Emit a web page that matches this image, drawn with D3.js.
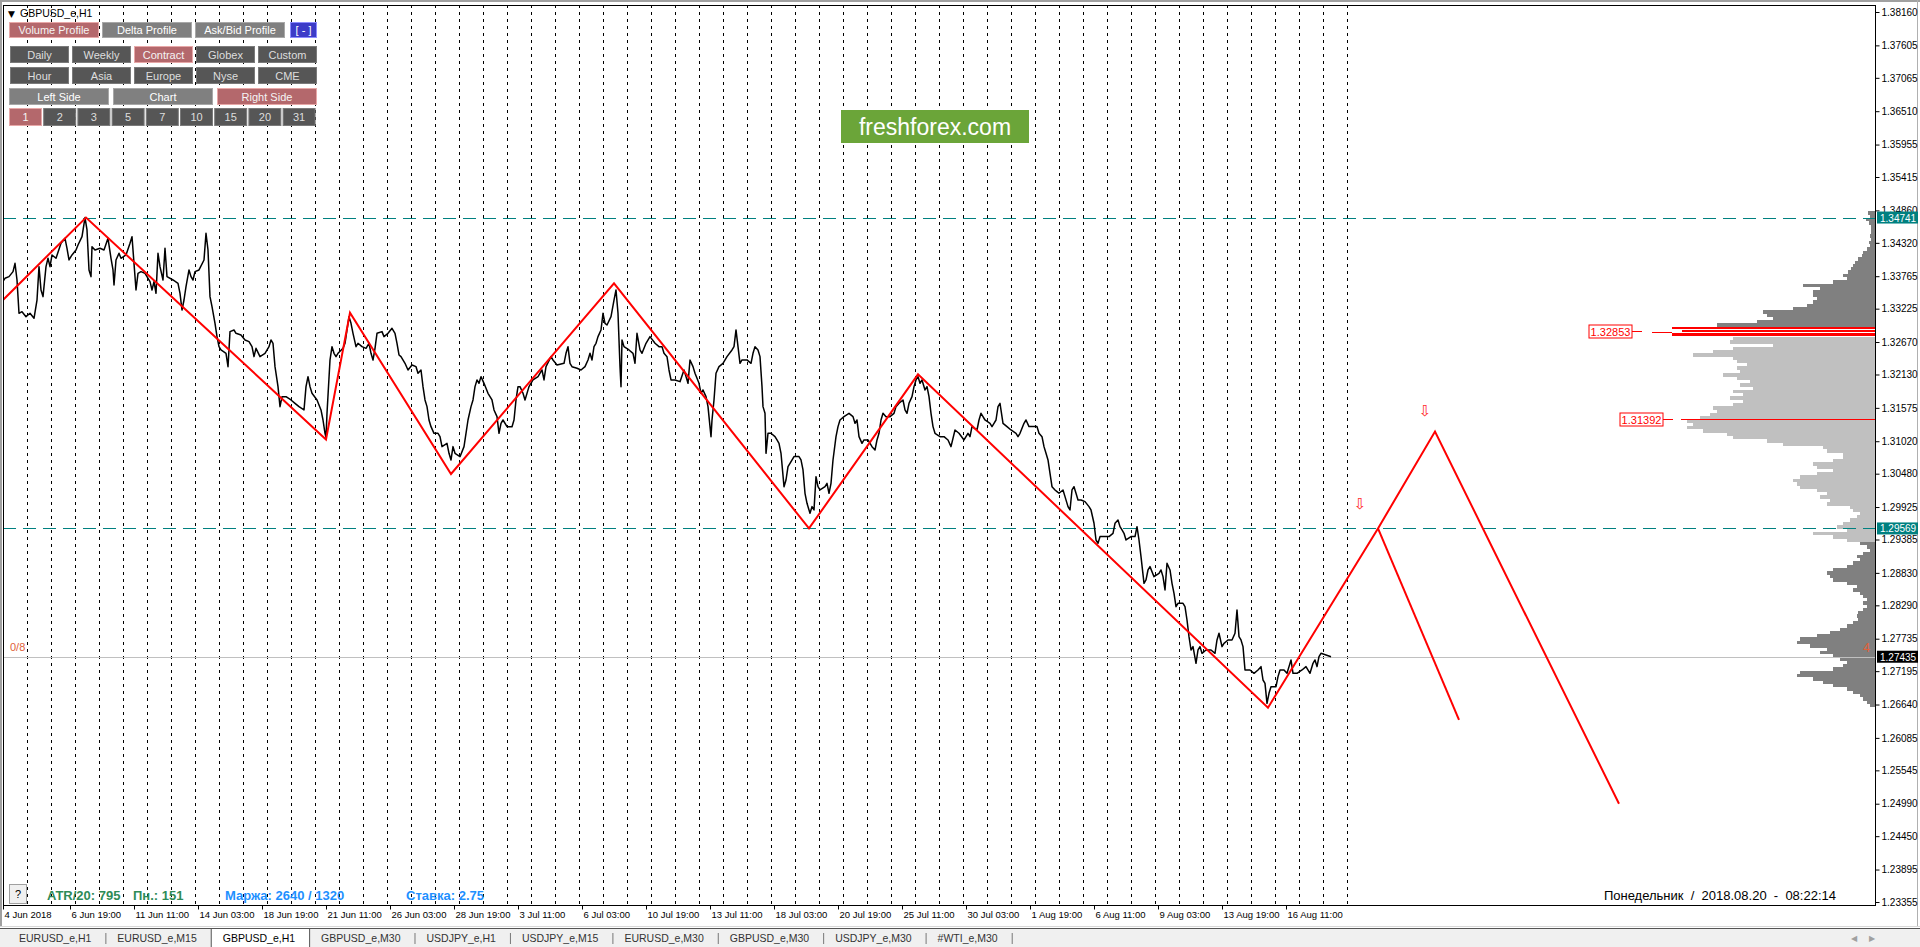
<!DOCTYPE html>
<html><head><meta charset="utf-8">
<script src="https://cdn.jsdelivr.net/npm/d3@7"></script>
<style>
body{margin:0;background:#fff;overflow:hidden}
svg{display:block}
text{font-family:"Liberation Sans",Arial,sans-serif}
</style>
</head><body>
<svg id="c" width="1920" height="947"></svg>
<script>
// ---------------- DATA ----------------
const symbolTitle = "GBPUSD_e,H1";
const priceTicks = [1.38160,1.37605,1.37065,1.36510,1.35955,1.35415,1.34860,1.34320,1.33765,1.33225,1.32670,1.32130,1.31575,1.31020,1.30480,1.29925,1.29385,1.28830,1.28290,1.27735,1.27195,1.26640,1.26085,1.25545,1.24990,1.24450,1.23895,1.23355];
const timeBars = [0,67,131,195,259,323,387,451,515,579,643,707,771,835,899,963,1027,1091,1155,1219,1283];
const timeLabels = ["4 Jun 2018","6 Jun 19:00","11 Jun 11:00","14 Jun 03:00","18 Jun 19:00","21 Jun 11:00","26 Jun 03:00","28 Jun 19:00","3 Jul 11:00","6 Jul 03:00","10 Jul 19:00","13 Jul 11:00","18 Jul 03:00","20 Jul 19:00","25 Jul 11:00","30 Jul 03:00","1 Aug 19:00","6 Aug 11:00","9 Aug 03:00","13 Aug 19:00","16 Aug 11:00"];
const barsPerDay = 24, lastSeparatorBar = 1344;

// H1 close path [bar index from 4 Jun 00:00, price]
const priceSeries = [[0,1.3368],[2,1.3373],[6,1.33758],[10,1.33841],[12,1.33979],[14,1.33702],[16,1.33148],[19,1.33175],[23,1.33092],[27,1.33148],[31,1.33065],[34,1.33369],[36,1.33924],[38,1.33536],[40,1.33425],[43,1.33924],[45,1.34063],[47,1.33924],[49,1.34118],[53,1.34063],[58,1.34312],[62,1.34395],[64,1.34229],[66,1.34035],[69,1.34118],[73,1.34201],[75,1.34284],[79,1.34423],[82,1.34741],[84,1.34534],[86,1.33869],[88,1.33758],[89,1.34257],[92,1.34201],[97,1.34229],[101,1.34201],[105,1.34395],[108,1.34063],[110,1.33869],[111,1.33619],[113,1.34035],[116,1.34146],[118,1.34063],[123,1.34118],[127,1.34312],[129,1.34423],[131,1.33979],[133,1.33536],[135,1.33813],[138,1.33841],[142,1.33813],[147,1.33674],[149,1.33536],[151,1.33674],[153,1.3348],[155,1.34146],[157,1.33924],[160,1.33702],[162,1.34229],[164,1.33758],[170,1.33702],[175,1.33647],[177,1.3348],[179,1.33203],[181,1.33369],[183,1.33591],[186,1.33869],[188,1.33758],[190,1.33702],[192,1.33841],[196,1.33869],[201,1.34035],[203,1.34478],[205,1.34201],[207,1.33425],[209,1.33259],[212,1.32981],[214,1.3276],[216,1.32593],[218,1.32538],[223,1.32482],[225,1.3226],[227,1.32843],[231,1.3287],[233,1.32815],[238,1.32787],[242,1.32704],[246,1.32676],[249,1.32593],[251,1.32427],[253,1.32565],[257,1.32427],[262,1.32482],[266,1.32593],[268,1.32704],[270,1.32649],[272,1.3226],[275,1.31928],[277,1.31595],[279,1.31761],[283,1.31761],[288,1.31706],[292,1.3165],[296,1.31595],[301,1.3154],[303,1.31928],[305,1.32094],[307,1.31928],[309,1.31817],[314,1.31706],[318,1.3154],[320,1.31373],[322,1.31151],[323,1.31085],[324,1.31484],[327,1.32371],[329,1.32593],[331,1.32482],[333,1.32427],[335,1.32482],[340,1.32565],[342,1.32649],[344,1.3287],[346,1.33092],[348,1.32981],[350,1.32815],[353,1.32593],[355,1.32649],[359,1.32593],[363,1.32565],[366,1.32649],[368,1.32482],[370,1.32371],[372,1.32565],[374,1.32815],[379,1.32843],[381,1.3276],[385,1.32815],[389,1.32898],[392,1.32815],[394,1.32649],[396,1.32455],[398,1.32427],[402,1.32316],[405,1.32205],[409,1.32288],[413,1.3226],[415,1.3215],[418,1.32205],[420,1.31928],[422,1.31706],[424,1.31595],[426,1.31373],[428,1.31262],[431,1.31151],[435,1.31151],[437,1.31096],[439,1.3093],[444,1.30985],[446,1.30819],[448,1.30708],[450,1.3093],[452,1.30819],[457,1.30763],[461,1.3093],[463,1.31151],[465,1.31373],[468,1.31595],[470,1.31706],[472,1.31928],[474,1.32039],[476,1.31983],[478,1.32094],[481,1.31983],[483,1.319],[485,1.31817],[489,1.31706],[491,1.3154],[494,1.31429],[496,1.31151],[498,1.31318],[500,1.31373],[504,1.31262],[509,1.31262],[511,1.31373],[513,1.31706],[515,1.31928],[517,1.31928],[520,1.31817],[522,1.31706],[526,1.31928],[530,1.32039],[535,1.32094],[539,1.32205],[541,1.32039],[543,1.3226],[548,1.32427],[550,1.32371],[554,1.32288],[561,1.32316],[563,1.32482],[565,1.32593],[567,1.32316],[569,1.3226],[574,1.32233],[578,1.32205],[582,1.3226],[585,1.32371],[587,1.32482],[589,1.32371],[591,1.32593],[593,1.32649],[595,1.3276],[598,1.3287],[600,1.33148],[602,1.32981],[604,1.32954],[608,1.33092],[611,1.33369],[613,1.33536],[615,1.33148],[617,1.3226],[618,1.31928],[619,1.32704],[621,1.32593],[626,1.32538],[630,1.32482],[632,1.32316],[634,1.32815],[637,1.32538],[639,1.32482],[643,1.32649],[647,1.3276],[652,1.32649],[656,1.32593],
[659,1.32593],[661,1.32482],[664,1.32427],[666,1.32205],[668,1.32039],[672,1.32039],[677,1.32011],[681,1.32205],[683,1.32094],[685,1.31983],[687,1.32372],[690,1.32261],[692,1.3215],[696,1.31983],[698,1.31817],[700,1.31873],[703,1.31762],[705,1.31595],[707,1.31263],[708,1.31096],[709,1.31373],[711,1.31706],[713,1.3215],[716,1.32261],[720,1.32316],[724,1.32427],[729,1.32538],[731,1.32593],[733,1.32871],[735,1.32593],[737,1.32316],[739,1.32372],[744,1.32372],[748,1.32316],[750,1.32482],[752,1.32593],[755,1.32538],[757,1.32427],[759,1.31928],[760,1.31595],[762,1.31484],[763,1.30819],[765,1.31152],[768,1.31152],[772,1.31096],[774,1.31041],[776,1.30985],[778,1.30819],[781,1.30264],[783,1.30375],[785,1.30597],[787,1.30653],[791,1.30764],[796,1.30764],[798,1.30708],[800,1.30542],[802,1.30154],[804,1.29987],[807,1.29821],[809,1.29932],[811,1.29876],[813,1.30431],[815,1.30264],[817,1.30209],[822,1.30264],[824,1.3032],[826,1.30154],[828,1.3032],[830,1.30708],[833,1.31096],[835,1.31263],[837,1.31373],[841,1.31429],[846,1.31484],[850,1.31429],[852,1.31318],[854,1.31373],[856,1.31096],[859,1.30985],[861,1.31041],[865,1.31041],[869,1.3093],[872,1.30874],[874,1.31041],[876,1.31152],[878,1.31373],[880,1.31484],[883,1.31429],[887,1.31429],[891,1.31484],[893,1.31595],[896,1.31651],[900,1.31706],[902,1.3154],[904,1.31484],[906,1.31651],[909,1.31762],[911,1.31928],[913,1.32039],[915,1.32094],[917,1.31983],[919,1.32039],[922,1.31873],[924,1.31928],[926,1.31762],[928,1.31484],[930,1.31263],[932,1.31152],[937,1.31096],[941,1.31096],[945,1.31041],[948,1.3093],[952,1.31207],[956,1.31152],[961,1.31041],[965,1.31152],[967,1.31096],[969,1.31263],[974,1.31207],[976,1.31373],[978,1.31484],[980,1.31429],[982,1.31373],[987,1.31318],[989,1.31263],[991,1.31318],[993,1.31373],[995,1.31595],[997,1.31651],[1000,1.31318],[1004,1.31263],[1008,1.31207],[1013,1.31152],[1015,1.31096],[1017,1.31152],[1021,1.31318],[1023,1.31373],[1026,1.31263],[1030,1.31263],[1034,1.31263],[1036,1.31152],[1039,1.31096],[1041,1.3093],[1043,1.30819],[1045,1.30708],[1047,1.30486],[1049,1.30264],[1052,1.30209],[1054,1.30181],[1056,1.30154],[1060,1.30209],[1062,1.30098],[1065,1.29932],[1067,1.29876],[1069,1.30209],[1071,1.30264],[1073,1.30154],[1075,1.30043],[1078,1.30043],[1082,1.30015],[1086,1.29932],[1088,1.29876],[1091,1.29655],[1093,1.29377],[1095,1.29322],[1097,1.29433],[1101,1.29433],[1106,1.29433],[1110,1.29488],[1112,1.29655],[1115,1.2971],[1117,1.29599],[1119,1.29544],[1121,1.29488],[1123,1.29377],[1128,1.29433],[1132,1.29433],[1134,1.29599],[1136,1.29377],[1138,1.291],[1141,1.28656],[1143,1.28712],[1145,1.28878],[1147,1.28934],[1151,1.28767],[1156,1.28823],[1158,1.28878],[1160,1.28767],[1162,1.28546],[1164,1.28989],[1167,1.28878],[1169,1.28656],[1171,1.2849],[1173,1.28268],[1175,1.28324],[1180,1.28324],[1182,1.28268],[1184,1.28046],[1186,1.27769],[1188,1.27547],[1190,1.27603],[1193,1.27326],[1195,1.27547],[1197,1.27603],[1199,1.27492],[1203,1.27547],[1208,1.27547],[1212,1.27492],[1214,1.27714],[1216,1.27825],[1219,1.27603],[1221,1.27658],[1225,1.27714],[1229,1.27714],[1232,1.27825],[1234,1.28213],[1236,1.27769],[1238,1.27714],[1240,1.27603],[1242,1.27215],[1247,1.27215],[1251,1.27159],[1255,1.27215],[1258,1.2727],[1260,1.27048],[1262,1.26993],[1264,1.2666],[1266,1.26827],[1268,1.26937],[1273,1.26937],[1275,1.27104],[1277,1.27215],[1281,1.27215],[1284,1.27159],[1286,1.2727],[1288,1.27381],[1290,1.27159],[1294,1.27159],[1299,1.27215],[1303,1.2727],[1307,1.27159],[1310,1.27326],[1312,1.27381],[1314,1.2727],[1316,1.27437],[1318,1.27492],[1323,1.27464],[1328,1.27435]];

// ZigZag swings + projection
const zigzagBars   = [0,83,323,347,448,611,806,915,1265,1375,1432,1616];
const zigzagPrices = [1.3337,1.34741,1.3105,1.33159,1.30475,1.33647,1.29569,1.32133,1.26588,1.29569,1.3118,1.2499];
const branchBars   = [1375,1456];
const branchPrices = [1.29569,1.26383];
const arrowBars    = [1357,1422];
const arrowPrices  = [1.2999,1.3154];

// reference levels
const dashedLevels = [1.34741,1.29569];
const currentPrice = 1.27435;
const murreyLabel = "0/8", murreyPrice = 1.2760, murreyRight = "4";

// Volume profile (bins from top, step in price)
const profileTop = 1.34850, profileStep = 0.00055;
const profileVolume = [7,5,9,6,4,4,4,5,4,6,5,8,12,13,17,20,22,24,27,32,28,42,72,55,62,62,58,62,68,82,112,108,102,118,158,203,193,203,142,145,102,142,162,182,142,138,128,138,135,152,138,125,135,122,142,132,145,132,142,162,158,165,175,188,182,188,172,148,142,108,92,52,48,32,32,42,62,58,42,58,75,82,78,75,58,48,55,45,48,25,22,15,18,25,32,38,28,62,42,28,15,8,5,12,18,15,22,28,42,48,45,42,28,18,22,15,12,8,12,8,12,17,18,17,22,28,35,45,58,75,78,65,48,55,42,35,28,32,42,75,78,62,52,42,28,22,15,12,8,5];
const valueAreaHigh = 1.32760, valueAreaLow = 1.29350;
const pocHigh = 1.32930, pocLow = 1.32760;
const pocPrice = 1.32853, midPrice = 1.31392;

// UI texts
const buttonRow1 = ["Volume Profile","Delta Profile","Ask/Bid Profile"];
const buttonRow2 = ["Daily","Weekly","Contract","Globex","Custom"];
const buttonRow3 = ["Hour","Asia","Europe","Nyse","CME"];
const buttonRow4 = ["Left Side","Chart","Right Side"];
const buttonRow5 = ["1","2","3","5","7","10","15","20","31"];
const activeButtons = ["Volume Profile","Contract","Right Side","1"];
const infoItems = [["ATR/20: 795","#2e8b57"],["Пн.: 151","#2e8b57"],["Маржа: 2640 / 1320","#1e90ff"],["Ставка: 2.75","#1e90ff"]];
const serverTime = "Понедельник  /  2018.08.20  -  08:22:14";
const tabs = ["EURUSD_e,H1","EURUSD_e,M15","GBPUSD_e,H1","GBPUSD_e,M30","USDJPY_e,H1","USDJPY_e,M15","EURUSD_e,M30","GBPUSD_e,M30","USDJPY_e,M30","#WTI_e,M30"];
const activeTab = "GBPUSD_e,H1";

// ---------------- DRAW ----------------
const svg = d3.select("#c");
const P = {l:3, t:5, r:1875, b:905};
const x = d3.scaleLinear().domain([0, P.r - P.l]).range([P.l, P.r]);
const y = d3.scaleLinear().domain([1.38160, 1.23355]).range([12, 902]);
const vol = d3.scaleLinear().domain([0, d3.max(profileVolume)]).range([0, 203]);
const volX = v => P.r - vol(v);

svg.append("rect").attr("width",1920).attr("height",947).attr("fill","#fff");
svg.append("rect").attr("x",0).attr("y",0).attr("width",1920).attr("height",2).attr("fill","#a0a0a0");
svg.append("rect").attr("x",0).attr("y",0).attr("width",2).attr("height",927).attr("fill","#a0a0a0");
svg.append("line").attr("x1",1917.5).attr("x2",1917.5).attr("y1",0).attr("y2",927).attr("stroke","#b0b0b0");

svg.append("clipPath").attr("id","pc").append("rect").attr("x",P.l).attr("y",P.t).attr("width",P.r-P.l).attr("height",P.b-P.t);
const g = svg.append("g").attr("clip-path","url(#pc)");

// day separators
g.selectAll(".sep").data(d3.range(barsPerDay, lastSeparatorBar+1, barsPerDay)).join("line")
  .attr("x1",d=>Math.round(x(d))+0.5).attr("x2",d=>Math.round(x(d))+0.5)
  .attr("y1",P.t).attr("y2",P.b).attr("stroke","#000").attr("stroke-dasharray","3,4");

// volume profile
g.selectAll(".pf").data(profileVolume).join("rect")
  .attr("x",d=>volX(d))
  .attr("y",(d,i)=>y(profileTop - profileStep*i))
  .attr("width",d=>vol(d))
  .attr("height",(d,i)=>{
    const p = profileTop - profileStep*i;
    const h = y(profileTop - profileStep*(i+1)) - y(p);
    return (p <= pocHigh && p > pocLow + 1e-6) ? h - 1 : h + 0.3;
  })
  .attr("fill",(d,i)=>{
    const p = profileTop - profileStep*i;
    if (p <= pocHigh && p > pocLow + 1e-6) return "#ff0000";
    if (p <= valueAreaHigh + 1e-6 && p - profileStep >= valueAreaLow - 1e-6) return "#c0c0c0";
    return "#808080";
  })
  .attr("shape-rendering","crispEdges");

// horizontal reference lines
g.selectAll(".dl").data(dashedLevels).join("line")
  .attr("x1",P.l).attr("x2",P.r).attr("y1",d=>Math.round(y(d))+0.5).attr("y2",d=>Math.round(y(d))+0.5)
  .attr("stroke","#008080").attr("stroke-dasharray","13,7");
g.append("line").attr("x1",P.l).attr("x2",P.r)
  .attr("y1",Math.round(y(currentPrice))+0.5).attr("y2",Math.round(y(currentPrice))+0.5)
  .attr("stroke","#c0c0c0");

// mid level line
const midY = Math.round(y(midPrice))+0.5;
g.append("line").attr("x1",volX(194)).attr("x2",P.r).attr("y1",midY).attr("y2",midY).attr("stroke","#ff0000");

// price line
const line = d3.line().x(d=>x(d[0])).y(d=>y(d[1]));
g.append("path").datum(priceSeries).attr("d",line).attr("fill","none").attr("stroke","#000").attr("stroke-width",1.5).attr("stroke-linejoin","round");

// zigzag + projections
const zz = zigzagBars.map((b,i)=>[b,zigzagPrices[i]]);
g.append("path").datum(zz).attr("d",line).attr("fill","none").attr("stroke","#ff0000").attr("stroke-width",2);
const br = branchBars.map((b,i)=>[b,branchPrices[i]]);
g.append("path").datum(br).attr("d",line).attr("fill","none").attr("stroke","#ff0000").attr("stroke-width",2);
g.selectAll(".arr").data(arrowBars).join("text")
  .attr("x",d=>x(d)).attr("y",(d,i)=>y(arrowPrices[i])+6)
  .attr("text-anchor","middle").attr("font-size",15).attr("fill","#ff2a2a")
  .style("font-family","DejaVu Sans").text("⇩");

// murrey labels
g.append("text").attr("x",10).attr("y",y(murreyPrice)+4).attr("font-size",11).attr("fill","#e0603a").text(murreyLabel);
g.append("text").attr("x",P.r-12).attr("y",y(murreyPrice)+5).attr("font-size",13).attr("fill","#e0603a").text(murreyRight);

// profile labels
function profLabel(price, rightVol, text, gapEnd){
  const cy = Math.round(y(price))+0.5;
  const xr = volX(rightVol);
  svg.append("rect").attr("x",xr-43).attr("y",cy-6.5).attr("width",43).attr("height",13)
    .attr("fill","#fff").attr("stroke","#ff0000");
  svg.append("text").attr("x",xr-21.5).attr("y",cy+4).attr("text-anchor","middle")
    .attr("font-size",11).attr("fill","#ff0000").text(text);
  svg.append("line").attr("x1",xr).attr("x2",xr+10).attr("y1",cy).attr("y2",cy).attr("stroke","#ff0000");
  if (gapEnd) svg.append("line").attr("x1",xr+20).attr("x2",gapEnd).attr("y1",cy+1).attr("y2",cy+1).attr("stroke","#ff0000");
}
profLabel(pocPrice, 243, d3.format(".5f")(pocPrice), volX(203));
profLabel(midPrice, 212, d3.format(".5f")(midPrice), null);

// frame
svg.append("rect").attr("x",P.l+0.5).attr("y",P.t+0.5).attr("width",P.r-P.l).attr("height",P.b-P.t)
  .attr("fill","none").attr("stroke","#000");

// y axis
const ya = svg.append("g").attr("transform",`translate(${P.r+0.5},0)`)
  .call(d3.axisRight(y).tickValues(priceTicks).tickFormat(d3.format(".5f")).tickSize(4).tickPadding(2));
ya.select(".domain").remove();
ya.selectAll("text").attr("font-size",10).attr("fill","#000").style("font-family","Liberation Sans");
ya.selectAll("line").attr("stroke","#000");

// axis price boxes
function axisBox(price, bg){
  const cy = y(price);
  svg.append("rect").attr("x",P.r+2).attr("y",cy-6).attr("width",41).attr("height",12).attr("fill",bg);
  svg.append("text").attr("x",P.r+5).attr("y",cy+4).attr("font-size",10).attr("fill","#fff").text(d3.format(".5f")(price));
}
dashedLevels.forEach(p=>axisBox(p,"#008080"));
axisBox(currentPrice,"#000");

// x axis
const xa = svg.append("g").attr("transform",`translate(0,${P.b+0.5})`)
  .call(d3.axisBottom(x).tickValues(timeBars).tickFormat((d,i)=>timeLabels[i]).tickSize(4).tickPadding(2));
xa.select(".domain").remove();
xa.selectAll("line").attr("stroke","#000");
xa.selectAll("text").attr("text-anchor","start").attr("x",1).attr("font-size",9.5).attr("fill","#000").style("font-family","Liberation Sans");

// title
svg.append("text").attr("x",8).attr("y",17).attr("font-size",9).attr("fill","#000").style("font-family","DejaVu Sans").text("▼");
svg.append("text").attr("x",20).attr("y",17).attr("font-size",10.5).attr("fill","#000").text(symbolTitle);

// buttons
const styles = {
  active:{fill:"#b4686c",stroke:"#e8a8a8",text:"#f4f4f4"},
  gray:{fill:"#808080",stroke:"#a8a8a8",text:"#ffffff"},
  dark:{fill:"#565656",stroke:"#7a7a7a",text:"#dedede"},
  blue:{fill:"#3c3cc8",stroke:"#8c8cff",text:"#ffffff"}
};
function button(label, bx, by, bw, bh, kind){
  const st = styles[activeButtons.includes(label) ? "active" : kind];
  svg.append("rect").attr("x",bx+0.5).attr("y",by+0.5).attr("width",bw).attr("height",bh)
    .attr("fill",st.fill).attr("stroke",st.stroke);
  svg.append("text").attr("x",bx+bw/2+0.5).attr("y",by+bh/2+4.5).attr("text-anchor","middle")
    .attr("font-size",11).attr("fill",st.text).text(label);
}
buttonRow1.forEach((l,i)=>button(l, 9+93*i, 22, 89, 15, "gray"));
button("[ - ]", 290, 22, 26, 15, "blue");
buttonRow2.forEach((l,i)=>button(l, 10+62*i, 46, 58, 16, "dark"));
buttonRow3.forEach((l,i)=>button(l, 10+62*i, 67, 58, 16, "dark"));
buttonRow4.forEach((l,i)=>button(l, 9+104*i, 88, 99, 16, "gray"));
buttonRow5.forEach((l,i)=>button(l, 9+34.2*i, 108, 32, 17, "dark"));

// watermark
svg.append("rect").attr("x",841).attr("y",110).attr("width",188).attr("height",33).attr("fill","#6ba539");
svg.append("text").attr("x",935).attr("y",135).attr("text-anchor","middle").attr("font-size",23).attr("fill","#fff").text("freshforex.com");

// bottom info
svg.append("rect").attr("x",9.5).attr("y",884.5).attr("width",17).attr("height",19).attr("fill","#f0f0f0").attr("stroke","#a0a0a0");
svg.append("text").attr("x",18).attr("y",898).attr("text-anchor","middle").attr("font-size",11).attr("fill","#000").text("?");
const infoX = [47,133,225,406];
infoItems.forEach((d,i)=>svg.append("text").attr("x",infoX[i]).attr("y",900).attr("font-size",13).attr("font-weight","bold").attr("fill",d[1]).text(d[0]));
svg.append("text").attr("x",1836).attr("y",900).attr("text-anchor","end").attr("font-size",13).attr("fill","#000")
  .attr("xml:space","preserve").style("white-space","pre").text(serverTime);

// tab bar
svg.append("rect").attr("x",0).attr("y",928).attr("width",1920).attr("height",19).attr("fill","#f0f0f0");
svg.append("line").attr("x1",0).attr("x2",1920).attr("y1",926.5).attr("y2",926.5).attr("stroke","#d8d8d8");
svg.append("line").attr("x1",0).attr("x2",1920).attr("y1",928.5).attr("y2",928.5).attr("stroke","#555");
let cursor = 19;
const tabG = svg.append("g");
const layout = [];
tabs.forEach(t=>{
  const txt = tabG.append("text").attr("x",cursor).attr("y",942).attr("font-size",10.5).attr("fill","#333").text(t);
  const w = txt.node().getComputedTextLength();
  const sepPrev = cursor - 12, sepNext = cursor + w + 14;
  layout.push({t, txt, sepPrev, sepNext});
  cursor = sepNext + 12;
});
layout.forEach((d,i)=>{
  if (d.t === activeTab){
    tabG.insert("rect","text").attr("x",d.sepPrev+0.5).attr("y",928.5).attr("width",d.sepNext-d.sepPrev).attr("height",19)
      .attr("fill","#fff").attr("stroke","#555");
    d.txt.attr("fill","#000");
  } else {
    const nextActive = layout[i+1] && layout[i+1].t === activeTab;
    if (!nextActive) tabG.append("line").attr("x1",d.sepNext+0.5).attr("x2",d.sepNext+0.5).attr("y1",933).attr("y2",944).attr("stroke","#777");
  }
});
svg.append("text").attr("x",1851).attr("y",941).attr("font-size",8).attr("fill","#a0a0a0").style("font-family","DejaVu Sans").text("◀");
svg.append("text").attr("x",1869).attr("y",941).attr("font-size",8).attr("fill","#a0a0a0").style("font-family","DejaVu Sans").text("▶");
</script>
</body></html>
